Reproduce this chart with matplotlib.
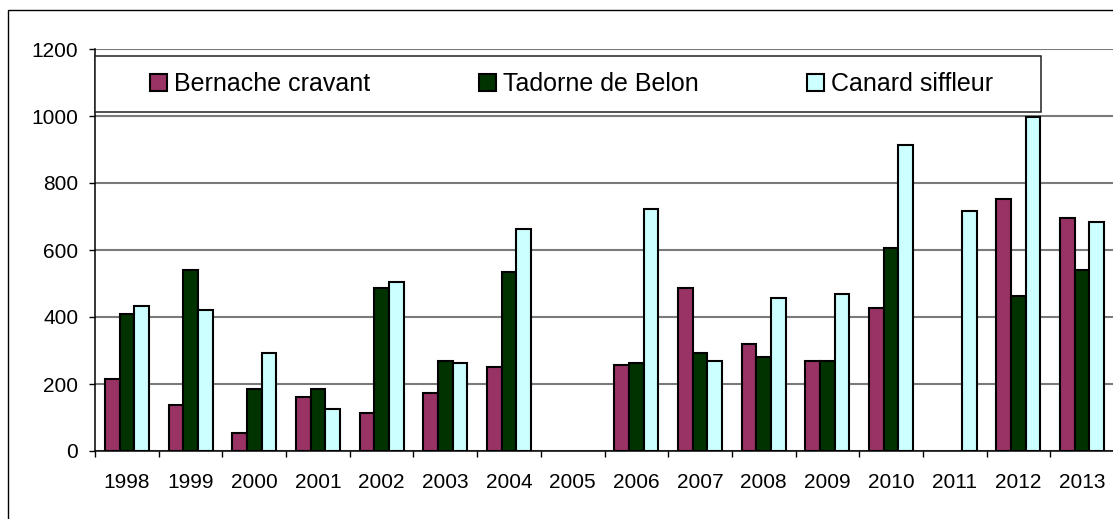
import numpy as np
import matplotlib
matplotlib.use('Agg')
import matplotlib.pyplot as plt
from matplotlib.patches import Rectangle, Patch

plt.rcParams['font.family'] = ['Liberation Sans', 'DejaVu Sans']

# counts per year (2005 not counted, 2011 only Canard siffleur)
years = ['1998', '1999', '2000', '2001', '2002', '2003', '2004', '2005',
         '2006', '2007', '2008', '2009', '2010', '2011', '2012', '2013']
bernache = [215, 138, 53, 162, 114, 174, 252, 0, 258, 486, 318, 270, 427, 0, 751, 697]
tadorne = [408, 541, 186, 186, 487, 270, 534, 0, 264, 294, 282, 270, 607, 0, 462, 541]
canard = [432, 420, 294, 125, 504, 264, 662, 0, 721, 270, 456, 468, 913, 715, 998, 685]

names = ['Bernache cravant', 'Tadorne de Belon', 'Canard siffleur']
colors = ['#993366', '#003300', '#CCFFFF']

fig = plt.figure(figsize=(11.13, 5.19), dpi=100)
ax = fig.add_axes([95/1113, 1 - 451/519, 1019/1113, 402/519])

# outer chart border (right/bottom edges are off the picture)
fig.patches.append(Rectangle((8/1113, -0.1), 1.2, 1 - 10/519 + 0.1,
                             transform=fig.transFigure, fill=False,
                             edgecolor='black', lw=1.0))

x = np.arange(len(years))
w = 0.23
for i, (vals, c) in enumerate(zip([bernache, tadorne, canard], colors)):
    v = np.array(vals, dtype=float)
    m = v > 0
    ax.bar(x[m] + (i - 1) * w, v[m], w, color=c, edgecolor='black',
           linewidth=1.5, zorder=3)

ax.set_xlim(-0.5, len(years) - 0.5)
ax.set_ylim(0, 1200)
ax.set_yticks(range(0, 1201, 200))
ax.yaxis.grid(True, color='#7a7a7a', linewidth=1.5, zorder=0)
ax.set_axisbelow(True)

# tick marks between categories, labels centred
ax.set_xticks(np.arange(len(years) + 1) - 0.5)
ax.set_xticklabels([])
ax.set_xticks(x, minor=True)
ax.set_xticklabels(years, minor=True)
ax.tick_params(axis='x', which='major', direction='out', length=4.5, width=1)
ax.tick_params(axis='x', which='minor', length=0, pad=15.5, labelsize=15)
ax.tick_params(axis='y', direction='out', length=4.5, width=1, pad=7.5, labelsize=15)

for s in ['top', 'right']:
    ax.spines[s].set_visible(False)
for s in ['left', 'bottom']:
    ax.spines[s].set_linewidth(1.1)

# legend box
ax.add_patch(Rectangle((0, 1012), 946/1019, 167, transform=ax.get_yaxis_transform(),
                       fill=True, facecolor='white', edgecolor='#222222', lw=1.1,
                       zorder=4, clip_on=False))
handles = [Patch(facecolor=c, edgecolor='black', linewidth=1.5) for c in colors]
ax.legend(handles, names, ncol=3, mode='expand', loc='center',
          bbox_to_anchor=(55/1019, 0.843, 843/1019, 0.139),
          frameon=False, fontsize=18, handlelength=0.68, handleheight=0.68,
          handletextpad=0.28, borderpad=0, borderaxespad=0).set_zorder(5)

fig.savefig('out.png', dpi=100)
